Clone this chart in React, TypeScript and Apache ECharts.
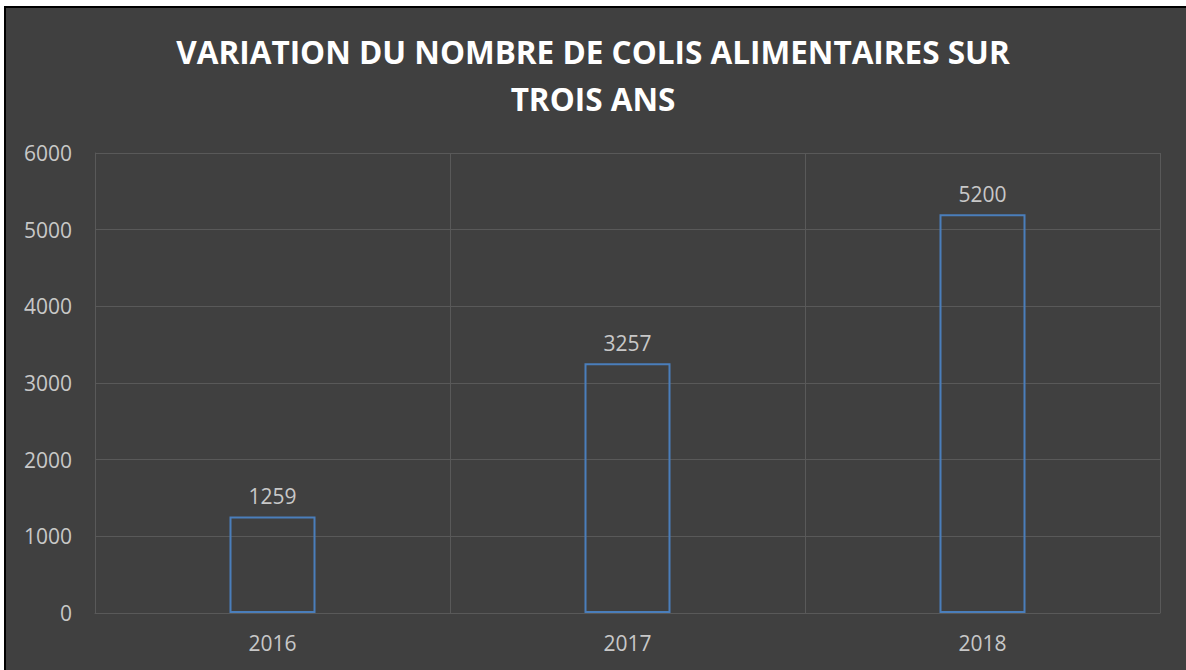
import React, { useEffect, useRef } from "react";
import * as echarts from "echarts";

const categories = ["2016", "2017", "2018"];
const colisValues = [1259, 3257, 5200];
const titleLines = ["VARIATION DU NOMBRE DE COLIS ALIMENTAIRES SUR", "TROIS ANS"];

export default function App() {
  const ref = useRef<HTMLDivElement>(null);
  useEffect(() => {
    if (!ref.current) return;
    const chart = echarts.init(ref.current, undefined, { renderer: "svg" });
    const font = "'Open Sans', 'Noto Sans', sans-serif";
    chart.setOption({
      animation: false,
      backgroundColor: "transparent",
      textStyle: { fontFamily: font },
      title: {
        text: titleLines.join("\n"),
        left: "center",
        top: 23,
        padding: [5, 0, 5, 8],
        textStyle: {
          color: "#ffffff",
          fontSize: 31.5,
          fontWeight: "bold",
          lineHeight: 47,
          fontFamily: font,
        },
      },
      grid: { left: 95, right: 26, top: 153, bottom: 57, containLabel: false },
      xAxis: {
        type: "category",
        data: categories,
        boundaryGap: true,
        axisLine: { show: true, lineStyle: { color: "#595959", width: 1 } },
        axisTick: { show: false },
        splitLine: { show: true, lineStyle: { color: "#595959", width: 1 } },
        axisLabel: { color: "#c8c8c8", fontSize: 21, margin: 19, fontFamily: font },
      },
      yAxis: {
        type: "value",
        min: 0,
        max: 6000,
        interval: 1000,
        axisLine: { show: true, lineStyle: { color: "#595959", width: 1 } },
        axisTick: { show: false },
        splitLine: { show: true, lineStyle: { color: "#595959", width: 1 } },
        axisLabel: {
          color: "#c8c8c8",
          fontSize: 21,
          margin: 23,
          fontFamily: font,
          formatter: (v: number) => String(v),
        },
      },
      series: [
        {
          type: "bar",
          data: colisValues,
          barWidth: 86,
          itemStyle: { color: "transparent", borderColor: "#4a7ebb", borderWidth: 2 },
          label: {
            show: true,
            position: "top",
            distance: 10,
            color: "#c8c8c8",
            fontSize: 21,
            fontFamily: font,
          },
        },
      ],
    });
    return () => chart.dispose();
  }, []);

  return (
    <div style={{ position: "fixed", left: 0, top: 0, width: 1186, height: 670, background: "#ffffff", overflow: "hidden" }}>
      <div
        style={{
          position: "absolute",
          left: 4,
          top: 6,
          width: 1200,
          height: 700,
          background: "#404040",
          borderLeft: "2px solid #000000",
          borderTop: "2px solid #000000",
        }}
      />
      <div ref={ref} style={{ position: "absolute", left: 0, top: 0, width: 1186, height: 670 }} />
    </div>
  );
}
